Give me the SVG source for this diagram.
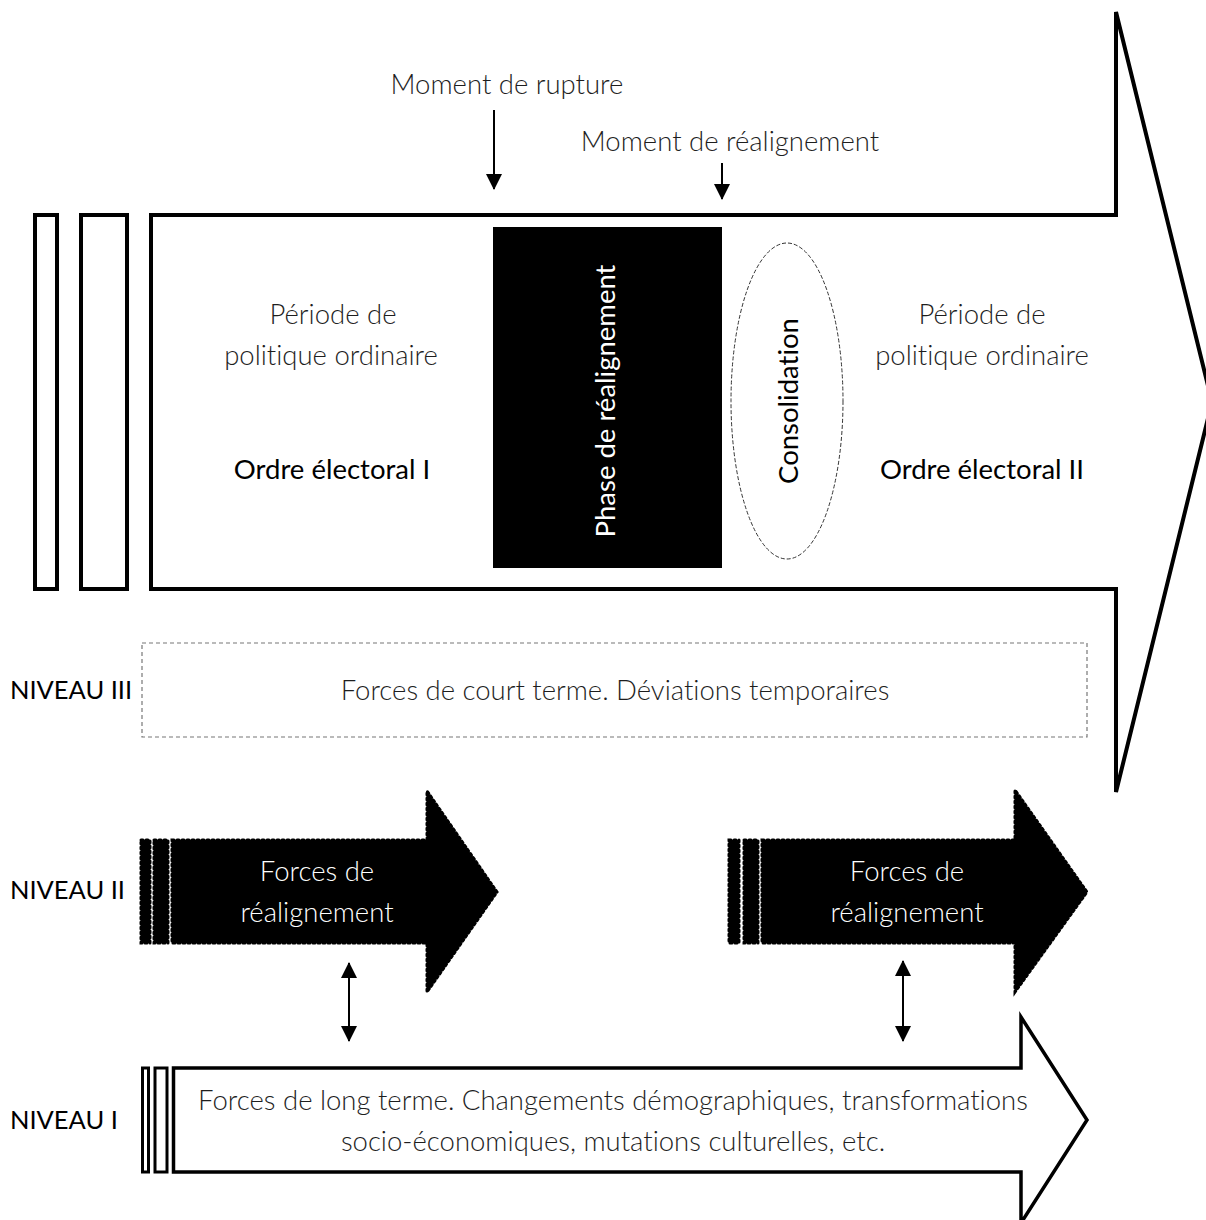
<svg xmlns="http://www.w3.org/2000/svg" width="1206" height="1220" viewBox="0 0 1206 1220">
<defs>
<style>
.t{font-family:"Lato","Open Sans","Liberation Sans",sans-serif;font-size:27.5px;text-anchor:middle;font-variant-ligatures:none;font-feature-settings:"liga" 0}
.lt{font-weight:300;fill:#1e1e1e}
.bk{fill:#000}
.wh{fill:#fff;font-weight:300}
.whr{fill:#fff}
.lbl{font-family:"Lato","Open Sans","Liberation Sans",sans-serif;font-size:25.5px;fill:#000;text-anchor:start}
.outline{fill:#fff;stroke:#000;stroke-width:4;stroke-linejoin:miter}
.dark{fill:#000;stroke:#000;stroke-width:3;stroke-dasharray:2 3;stroke-linecap:round}
.conn{stroke:#000;stroke-width:2;fill:none}
</style>
<marker id="ah" viewBox="0 0 16 16" refX="15" refY="8" markerWidth="16" markerHeight="16" markerUnits="userSpaceOnUse" orient="auto-start-reverse">
<path d="M0,0 L16,8 L0,16 Z" fill="#000"/>
</marker>
</defs>
<rect width="1206" height="1220" fill="#fff"/>

<g id="main-arrow">
<path class="outline" d="M151,215 H1116 V12 L1212,402 L1116,792 V589 H151 Z"/>
<rect class="outline" x="35" y="215" width="22" height="374"/>
<rect class="outline" x="81" y="215" width="46" height="374"/>
</g>

<g id="periode1">
<text class="t lt" x="333" y="324">Période de</text>
<text class="t lt" x="331" y="365">politique ordinaire</text>
<text class="t bk" x="332" y="479">Ordre électoral I</text>
</g>

<g id="phase">
<rect x="493" y="227" width="229" height="341" fill="#000"/>
<text class="t whr" transform="translate(615,401) rotate(-90)">Phase de réalignement</text>
</g>

<g id="consolidation">
<ellipse cx="787" cy="401" rx="56" ry="158" fill="#fff" stroke="#333" stroke-width="1" stroke-dasharray="4 2"/>
<text class="t bk" transform="translate(798,401) rotate(-90)">Consolidation</text>
</g>

<g id="periode2">
<text class="t lt" x="982" y="324">Période de</text>
<text class="t lt" x="982" y="365">politique ordinaire</text>
<text class="t bk" x="982" y="479">Ordre électoral II</text>
</g>

<g id="moments">
<text class="t lt" x="507" y="94">Moment de rupture</text>
<text class="t lt" x="730" y="151">Moment de réalignement</text>
</g>

<g id="niveau3">
<text class="lbl" x="10" y="699">NIVEAU III</text>
<rect x="142" y="643" width="945" height="94" fill="none" stroke="#777" stroke-width="1.2" stroke-dasharray="4 3"/>
<text class="t lt" x="615" y="700">Forces de court terme. Déviations temporaires</text>
</g>

<g id="niveau2">
<text class="lbl" x="10" y="899">NIVEAU II</text>
</g>

<g id="forces-left">
<rect class="dark" x="141" y="840" width="9" height="103"/>
<rect class="dark" x="154" y="840" width="14" height="103"/>
<path class="dark" d="M172,840 H427 V791 L497,892 L427,992 V943 H172 Z"/>
<text class="t wh" x="317" y="881">Forces de</text>
<text class="t wh" x="317" y="922">réalignement</text>
</g>

<g id="forces-right">
<rect class="dark" x="729" y="840" width="10" height="103"/>
<rect class="dark" x="744" y="840" width="14" height="103"/>
<path class="dark" d="M762,840 H1015 V790 L1087,892 L1015,992 V943 H762 Z"/>
<text class="t wh" x="907" y="881">Forces de</text>
<text class="t wh" x="907" y="922">réalignement</text>
</g>

<g id="niveau1">
<text class="lbl" x="10" y="1129">NIVEAU I</text>
<rect x="142.5" y="1068" width="6" height="104" fill="#fff" stroke="#000" stroke-width="3"/>
<rect x="155" y="1068" width="12" height="104" fill="#fff" stroke="#000" stroke-width="3"/>
<path d="M173.5,1068 H1021 V1017 L1087,1120 L1021,1223 V1172 H173.5 Z" fill="#fff" stroke="#000" stroke-width="3.5"/>
<text class="t lt" x="613" y="1110">Forces de long terme. Changements démographiques, transformations</text>
<text class="t lt" x="613" y="1151">socio-économiques, mutations culturelles, etc.</text>
</g>

<g id="connectors">
<line class="conn" x1="494" y1="110" x2="494" y2="189" marker-end="url(#ah)"/>
<line class="conn" x1="722" y1="163" x2="722" y2="199" marker-end="url(#ah)"/>
<line class="conn" x1="349" y1="963" x2="349" y2="1041" marker-start="url(#ah)" marker-end="url(#ah)"/>
<line class="conn" x1="903" y1="961" x2="903" y2="1041" marker-start="url(#ah)" marker-end="url(#ah)"/>
</g>
</svg>
